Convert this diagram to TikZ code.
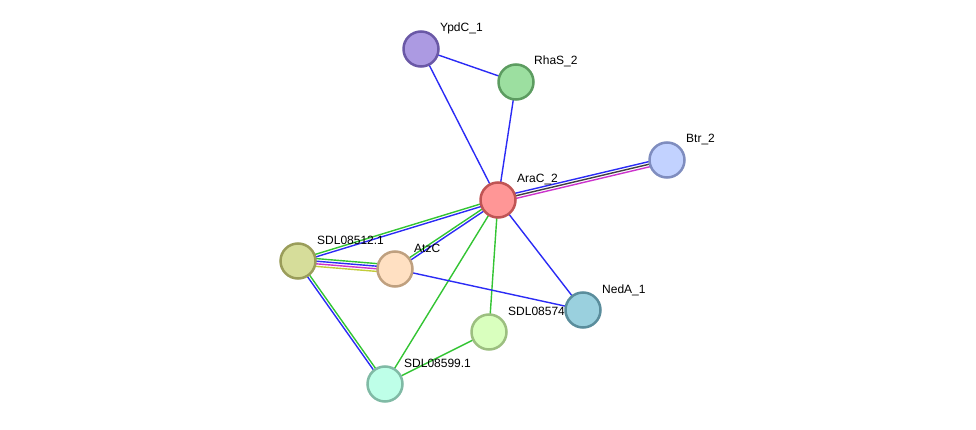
\documentclass[tikz,border=0pt]{standalone}
\usepackage{fontspec}
\setmainfont{Liberation Sans}
\usetikzlibrary{calc,backgrounds}

\definecolor{lnblue}{HTML}{2B2BF5}
\definecolor{lngreen}{HTML}{33C433}
\definecolor{lnpink}{HTML}{CC33CC}
\definecolor{lnyellow}{HTML}{C2CC3A}
\definecolor{lnblack}{HTML}{404040}

\definecolor{aracfill}{HTML}{FF9696}   \definecolor{aracline}{HTML}{C05454}
\definecolor{ypdcfill}{HTML}{AC9AE2}   \definecolor{ypdcline}{HTML}{6A58A6}
\definecolor{rhasfill}{HTML}{9CDFA0}   \definecolor{rhasline}{HTML}{5C9C60}
\definecolor{btrfill}{HTML}{C2D2FF}    \definecolor{btrline}{HTML}{7F8DBF}
\definecolor{sdlafill}{HTML}{D6DD9A}   \definecolor{sdlaline}{HTML}{9A9D5A}
\definecolor{atzcfill}{HTML}{FFE0C2}   \definecolor{atzcline}{HTML}{BFA07F}
\definecolor{sdlbfill}{HTML}{D9FFBE}   \definecolor{sdlbline}{HTML}{9CBF80}
\definecolor{sdlcfill}{HTML}{BEFFE8}   \definecolor{sdlcline}{HTML}{80BAA5}
\definecolor{nedafill}{HTML}{9AD0DE}   \definecolor{nedaline}{HTML}{5A8D9C}

\tikzset{
  protein/.style={circle,minimum size=35pt,inner sep=0pt,line width=2.5pt,
    fill=#1fill,draw=#1line},
  plabel/.style={anchor=base west,inner sep=0pt,font=\fontsize{12}{14}\selectfont},
  link/.style={line width=1.4pt}
}

% one line of a bundle, shifted sideways by #3
\newcommand{\bond}[4]{\draw[link,#4] ($(#1)!#3!90:(#2)$) -- ($(#2)!#3!-90:(#1)$);}

\begin{document}
\begin{tikzpicture}[x=1pt,y=-1pt]
  \useasboundingbox (0,0) rectangle (976,430);

  \node[protein=arac] (arac) at (498,200) {};
  \node[plabel] at (517,183) {AraC\_2};
  \node[protein=ypdc] (ypdc) at (421,49) {};
  \node[plabel] at (440,32) {YpdC\_1};
  \node[protein=rhas] (rhas) at (516,82) {};
  \node[plabel] at (534,65) {RhaS\_2};
  \node[protein=btr] (btr) at (667,160) {};
  \node[plabel] at (686,143) {Btr\_2};
  \node[protein=sdla] (sdla) at (298,261) {};
  \node[plabel] at (317,244) {SDL08512.1};
  \node[protein=atzc] (atzc) at (395,269) {};
  \node[plabel] at (414,252) {AtzC};
  \node[protein=sdlb] (sdlb) at (489,332) {};
  \node[plabel] at (508,315) {SDL08574};
  \node[protein=sdlc] (sdlc) at (385,384) {};
  \node[plabel] at (404,367) {SDL08599.1};
  \node[protein=neda] (neda) at (583,310) {};
  \node[plabel] at (602,293) {NedA\_1};

  \begin{pgfonlayer}{background}
    \bond{ypdc}{rhas}{0pt}{lnblue}
    \bond{ypdc}{arac}{0pt}{lnblue}
    \bond{rhas}{arac}{0pt}{lnblue}
    \bond{arac}{btr}{2.6pt}{lnblue}
    \bond{arac}{btr}{0pt}{lnblack}
    \bond{arac}{btr}{-2.6pt}{lnpink}
    \bond{arac}{sdla}{-1.3pt}{lngreen}
    \bond{arac}{sdla}{1.3pt}{lnblue}
    \bond{arac}{atzc}{-1.3pt}{lngreen}
    \bond{arac}{atzc}{1.3pt}{lnblue}
    \bond{arac}{neda}{0pt}{lnblue}
    \bond{arac}{sdlb}{0pt}{lngreen}
    \bond{arac}{sdlc}{0pt}{lngreen}
    \bond{sdla}{atzc}{3.9pt}{lngreen}
    \bond{sdla}{atzc}{1.3pt}{lnblue}
    \bond{sdla}{atzc}{-1.3pt}{lnpink}
    \bond{sdla}{atzc}{-3.9pt}{lnyellow}
    \bond{sdla}{sdlc}{1.3pt}{lngreen}
    \bond{sdla}{sdlc}{-1.3pt}{lnblue}
    \bond{atzc}{neda}{0pt}{lnblue}
    \bond{sdlb}{sdlc}{0pt}{lngreen}
  \end{pgfonlayer}
\end{tikzpicture}
\end{document}
